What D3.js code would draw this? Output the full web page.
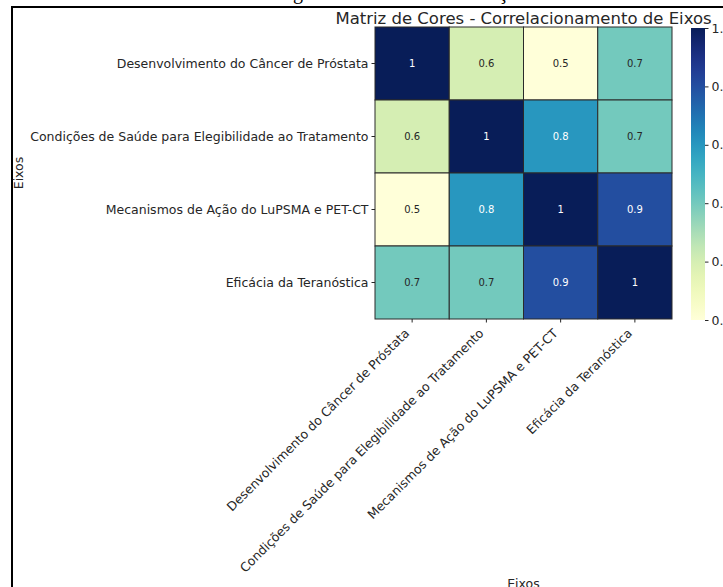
<!DOCTYPE html>
<html>
<head>
<meta charset="utf-8">
<script src="https://cdn.jsdelivr.net/npm/d3@7"></script>
<style>
  html, body { margin: 0; padding: 0; background: #fff; overflow: hidden; }
  svg { display: block; font-family: "DejaVu Sans", sans-serif; }
</style>
</head>
<body>
<svg id="chart" width="723" height="587"></svg>
<script>
// Axis names (rows and columns share the same list)
const eixos = [
  "Desenvolvimento do Câncer de Próstata",
  "Condições de Saúde para Elegibilidade ao Tratamento",
  "Mecanismos de Ação do LuPSMA e PET-CT",
  "Eficácia da Teranóstica"
];
// Correlation values, one array per row
const row1 = [1, 0.6, 0.5, 0.7];
const row2 = [0.6, 1, 0.8, 0.7];
const row3 = [0.5, 0.8, 1, 0.9];
const row4 = [0.7, 0.7, 0.9, 1];
const matrix = [row1, row2, row3, row4];
// Colour bar ticks
const colorTicks = [0.5, 0.6, 0.7, 0.8, 0.9, 1.0];
const titleText = "Matriz de Cores - Correlacionamento de Eixos";
const axisLabel = "Eixos";
const captionText = "Imagem da Matriz de Correlação";

const svg = d3.select("#chart");
const textColor = "#262626";
const tickFont = 12.5;

// caption of the page, cut by the top edge
svg.append("text")
  .attr("x", 262).attr("y", -1.5)
  .attr("font-family", "Liberation Serif, serif")
  .attr("font-size", 20)
  .attr("fill", "#000")
  .text(captionText);

// frame around the figure
svg.append("path")
  .attr("d", "M12,600 L12,7 L730,7")
  .attr("fill", "none")
  .attr("stroke", "#000")
  .attr("stroke-width", 2);

const plotLeft = 375, plotRight = 672, plotTop = 27, plotBottom = 319;
const x = d3.scaleBand().domain(eixos).range([plotLeft, plotRight]);
const y = d3.scaleBand().domain(eixos).range([plotTop, plotBottom]);
const color = d3.scaleSequential(d3.interpolateYlGnBu).domain([0.5, 1]);

const cells = [];
matrix.forEach((r, i) => r.forEach((v, j) => cells.push({ row: eixos[i], col: eixos[j], v })));

svg.append("g").selectAll("rect")
  .data(cells).join("rect")
  .attr("x", d => x(d.col))
  .attr("y", d => y(d.row))
  .attr("width", x.bandwidth())
  .attr("height", y.bandwidth())
  .attr("fill", d => color(d.v))
  .attr("stroke", "#2a2a2a")
  .attr("stroke-width", 1);

function lum(c) {
  const rgb = d3.rgb(c);
  const f = u => { u /= 255; return u <= 0.03928 ? u / 12.92 : Math.pow((u + 0.055) / 1.055, 2.4); };
  return 0.2126 * f(rgb.r) + 0.7152 * f(rgb.g) + 0.0722 * f(rgb.b);
}

svg.append("g").selectAll("text")
  .data(cells).join("text")
  .attr("x", d => x(d.col) + x.bandwidth() / 2)
  .attr("y", d => y(d.row) + y.bandwidth() / 2)
  .attr("text-anchor", "middle")
  .attr("dominant-baseline", "central")
  .attr("font-size", 10)
  .attr("fill", d => lum(color(d.v)) < 0.408 ? "#ffffff" : textColor)
  .text(d => String(d.v));

// y axis
const yAxis = svg.append("g")
  .attr("transform", `translate(${plotLeft},0)`)
  .call(d3.axisLeft(y).tickSize(3.5).tickPadding(3));
yAxis.select(".domain").remove();
yAxis.selectAll("line").attr("stroke", textColor);
yAxis.selectAll("text").attr("font-size", tickFont).attr("fill", textColor)
  .attr("font-family", "DejaVu Sans");

// x axis with slanted labels
const xAxis = svg.append("g")
  .attr("transform", `translate(0,${plotBottom})`)
  .call(d3.axisBottom(x).tickSize(3.5).tickPadding(3));
xAxis.select(".domain").remove();
xAxis.selectAll("line").attr("stroke", textColor);
xAxis.selectAll("text")
  .attr("font-size", tickFont).attr("fill", textColor)
  .attr("font-family", "DejaVu Sans")
  .attr("text-anchor", "end")
  .attr("y", 0).attr("dy", 0)
  .attr("transform", "translate(-2,15) rotate(-45)");

// axis titles
svg.append("text")
  .attr("x", (plotLeft + plotRight) / 2).attr("y", 588)
  .attr("text-anchor", "middle")
  .attr("font-size", tickFont).attr("fill", textColor)
  .text(axisLabel);
svg.append("text")
  .attr("transform", `translate(23,${(plotTop + plotBottom) / 2}) rotate(-90)`)
  .attr("text-anchor", "middle")
  .attr("font-size", tickFont).attr("fill", textColor)
  .text(axisLabel);

// title
svg.append("text")
  .attr("x", (plotLeft + plotRight) / 2).attr("y", 24)
  .attr("text-anchor", "middle")
  .attr("font-size", 16.5).attr("fill", textColor)
  .text(titleText);

// colour bar
const cbX = 691, cbW = 14, cbTop = 28, cbBottom = 320;
const defs = svg.append("defs");
const grad = defs.append("linearGradient")
  .attr("id", "cbgrad").attr("x1", 0).attr("y1", 1).attr("x2", 0).attr("y2", 0);
d3.range(0, 1.0001, 0.05).forEach(t => {
  grad.append("stop").attr("offset", t).attr("stop-color", color(0.5 + 0.5 * t));
});
svg.append("rect")
  .attr("x", cbX).attr("y", cbTop).attr("width", cbW).attr("height", cbBottom - cbTop)
  .attr("fill", "url(#cbgrad)");
const cbScale = d3.scaleLinear().domain([0.5, 1]).range([cbBottom, cbTop]);
const cbAxis = svg.append("g")
  .attr("transform", `translate(${cbX + cbW},0)`)
  .call(d3.axisRight(cbScale).tickValues(colorTicks).tickFormat(d3.format(".1f")).tickSize(3.5).tickPadding(3));
cbAxis.select(".domain").remove();
cbAxis.selectAll("line").attr("stroke", textColor);
cbAxis.selectAll("text").attr("font-size", tickFont).attr("fill", textColor)
  .attr("font-family", "DejaVu Sans");
</script>
</body>
</html>
